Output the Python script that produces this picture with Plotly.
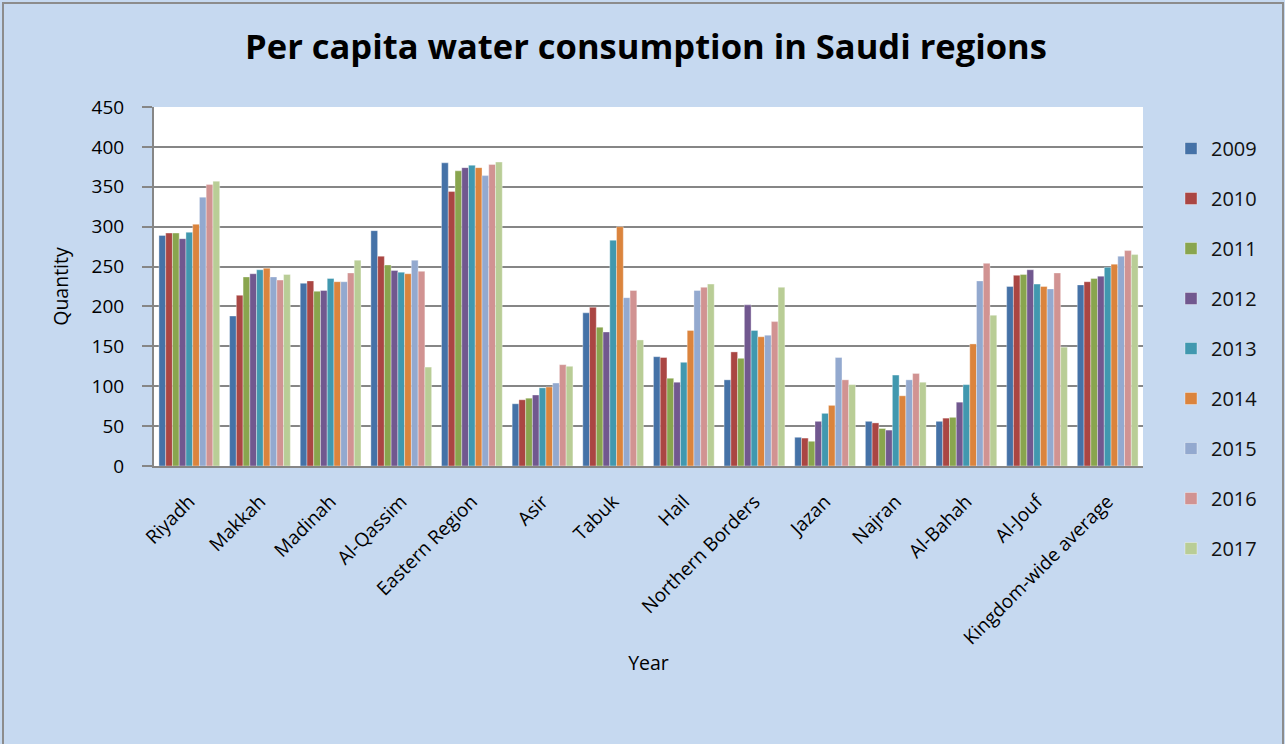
import plotly.graph_objects as go

regions = ["Riyadh", "Makkah", "Madinah", "Al-Qassim", "Eastern Region", "Asir", "Tabuk",
           "Hail", "Northern Borders", "Jazan", "Najran", "Al-Bahah", "Al-Jouf",
           "Kingdom-wide average"]
years = ["2009", "2010", "2011", "2012", "2013", "2014", "2015", "2016", "2017"]

v2009 = [289, 188, 229, 295, 380, 78, 192, 137, 108, 36, 56, 56, 225, 227]
v2010 = [292, 214, 232, 263, 344, 83, 199, 136, 143, 35, 54, 60, 239, 231]
v2011 = [292, 237, 219, 252, 370, 85, 174, 110, 135, 31, 47, 61, 240, 235]
v2012 = [285, 241, 220, 245, 374, 89, 168, 105, 202, 56, 45, 80, 246, 238]
v2013 = [293, 246, 235, 243, 377, 98, 283, 130, 170, 66, 114, 102, 228, 249]
v2014 = [303, 248, 231, 241, 374, 99, 300, 170, 162, 76, 88, 153, 225, 253]
v2015 = [337, 237, 231, 258, 364, 104, 211, 220, 164, 136, 108, 232, 222, 263]
v2016 = [353, 233, 242, 244, 378, 127, 220, 224, 181, 108, 116, 254, 242, 270]
v2017 = [357, 240, 258, 124, 381, 125, 158, 228, 224, 102, 105, 189, 149, 265]

series = [v2009, v2010, v2011, v2012, v2013, v2014, v2015, v2016, v2017]
colors = ["#4572a7", "#aa4643", "#89a54e", "#71588f", "#4198af", "#db843d",
          "#93a9cf", "#d19392", "#b9cd96"]

fig = go.Figure()
for yr, vals, col in zip(years, series, colors):
    fig.add_trace(go.Bar(
        name=yr, x=regions, y=vals, legendgroup=yr,
        marker=dict(color=col, line=dict(color="rgba(255,255,255,0.6)", width=0.6)),
    ))

L, R, T, B = 154, 1143, 107, 466
W, H = 1285, 744
pw, ph = R - L, B - T

fig.update_layout(
    width=W, height=H,
    barmode="group", bargap=0.14, bargroupgap=0,
    paper_bgcolor="#c6d9f0", plot_bgcolor="white",
    margin=dict(l=L, r=W - R, t=T, b=H - B, autoexpand=False),
    font=dict(family="Open Sans, Noto Sans, sans-serif", color="black"),
    title=dict(text="<b>Per capita water consumption in Saudi regions</b>",
               x=(646 - L) / pw, xref="paper", xanchor="center",
               y=1 - 47 / H, yref="container", yanchor="middle",
               font=dict(size=34.5, family="Open Sans, sans-serif", color="black")),
    legend=dict(x=(1171 - L) / pw, xanchor="left", y=(B - 129) / ph, yanchor="top",
                bgcolor="rgba(0,0,0,0)", font=dict(size=20, color="#111"),
                tracegroupgap=21, itemwidth=30, maxheight=700),
    xaxis=dict(tickangle=-45, tickfont=dict(size=19), showgrid=False,
               showline=True, linecolor="#868686", linewidth=2,
               ticklabelstandoff=15,
               title=dict(text="Year", font=dict(size=19.5), standoff=7),
               ticks="", range=[-0.5, 13.5]),
    yaxis=dict(range=[0, 450], dtick=50, tickfont=dict(size=19),
               showgrid=True, gridcolor="#868686", gridwidth=2,
               showline=True, linecolor="#868686", linewidth=2,
               ticks="outside", ticklen=10, tickcolor="#868686", tickwidth=2,
               ticklabelstandoff=14,
               title=dict(text="Quantity", font=dict(size=19.5), standoff=18),
               zeroline=False),
    shapes=[dict(type="rect", xref="paper", yref="paper",
                 x0=(3 - L) / pw, x1=(1283 - L) / pw,
                 y0=(B - 780) / ph, y1=(B - 3) / ph,
                 line=dict(color="#8c8c8c", width=2), fillcolor="rgba(0,0,0,0)",
                 layer="below")],
)

fig.write_html("out.html", config={"displayModeBar": False},
               post_script="document.body.style.margin='0px';")
